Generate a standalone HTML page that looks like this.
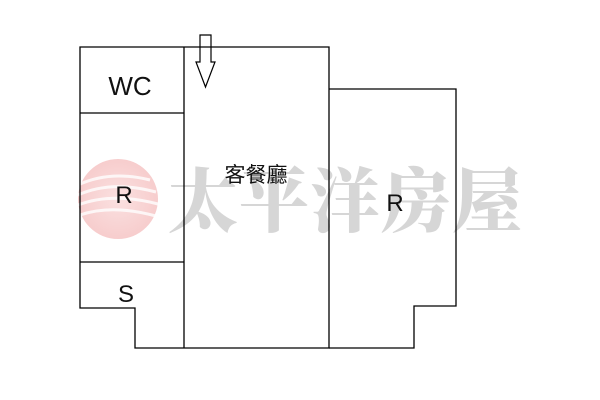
<!DOCTYPE html>
<html><head><meta charset="utf-8"><style>body{margin:0;background:#fff}svg{display:block}</style></head>
<body>
<svg width="600" height="400" xmlns="http://www.w3.org/2000/svg">
<defs><radialGradient id="g" cx="0.5" cy="0.5" r="0.5"><stop offset="0" stop-color="#f9d6d6"/><stop offset="1" stop-color="#f4bcbc"/></radialGradient></defs>
<circle cx="118" cy="199" r="40" fill="url(#g)" opacity="0.75"/>
<g stroke="#fff" stroke-width="3" fill="none" opacity="0.8">
<path d="M78 185 Q110 170 150 180"/><path d="M78 195 Q112 180 156 192"/><path d="M78 205 Q112 192 158 204"/><path d="M80 215 Q112 204 156 216"/>
</g>
<text x="168" y="226" font-family="'Noto Serif CJK SC','Noto Serif CJK TC',serif" font-weight="900" font-size="70" fill="#d6d6d6" letter-spacing="1">太平洋房屋</text>
<g stroke="#000" stroke-width="1.3" fill="none">
<path d="M80 47 H329 V348 H135 V308 H80 Z"/>
<path d="M184 47 V348"/>
<path d="M80 113 H184"/>
<path d="M80 262 H184"/>
<path d="M329 89 H456 V306 H414 V348 H329"/>
<path d="M200 35 H211 V62 H215 L205.5 87 L196 62 H200 Z" stroke-width="1.2"/>
</g>
<g font-family="'Liberation Sans','Noto Sans CJK TC',sans-serif" fill="#111">
<text x="130" y="95" font-size="26" text-anchor="middle">WC</text>
<text x="124" y="203" font-size="24" text-anchor="middle">R</text>
<text x="126" y="302" font-size="24" text-anchor="middle">S</text>
<text x="256" y="182" font-size="21" text-anchor="middle">客餐廳</text>
<text x="395" y="211" font-size="24" text-anchor="middle">R</text>
</g>
</svg>
</body></html>
